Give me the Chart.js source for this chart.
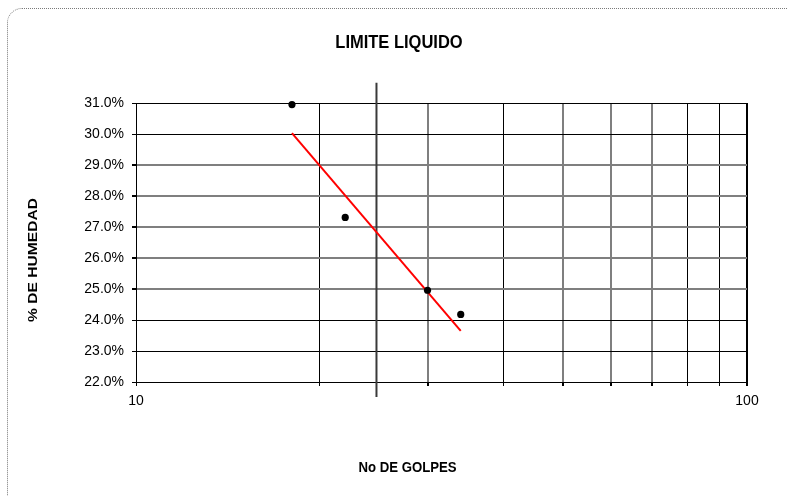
<!DOCTYPE html>
<html>
<head>
<meta charset="utf-8">
<script src="https://cdn.jsdelivr.net/npm/chart.js@4.4.1/dist/chart.umd.min.js"></script>
<style>
  html, body { margin: 0; padding: 0; background: #fff; overflow: hidden; }
  #wrap { position: relative; width: 787px; height: 496px; }
  #frame { position: absolute; left: 7px; top: 8px; width: 830px; height: 530px;
           border: 1px dotted #7a7a7a; border-radius: 15px; pointer-events: none; }
  canvas { position: absolute; left: 0; top: 0; }
</style>
</head>
<body>
<div id="wrap">
  <canvas id="c" width="787" height="496"></canvas>
  <div id="frame"></div>
</div>
<script>
// ---- data ----
const TITLE = 'LIMITE LIQUIDO';
const X_TITLE = 'No DE GOLPES';
const Y_TITLE = '% DE HUMEDAD';

const golpes  = [18, 22, 30, 34];              // No de golpes
const humedad = [30.95, 27.31, 24.96, 24.18];  // % de humedad

const trendGolpes  = [18, 34];                 // red fitted line ends
const trendHumedad = [30.03, 23.65];

const refGolpes  = [24.75, 24.75];             // vertical reference line (25 golpes)
const refHumedad = [21.52, 31.65];

const xTickValues = [10, 20, 30, 40, 50, 60, 70, 80, 90, 100];
const xTickLabels = ['10', '', '', '', '', '', '', '', '', '100'];
const yTickValues = [22, 23, 24, 25, 26, 27, 28, 29, 30, 31];

const xGrayLines = [30, 50, 60, 70];
const yGrayLines = [25, 26, 27, 28, 29];

const toPts = (xs, ys) => xs.map((x, i) => ({ x: x, y: ys[i] }));

const textPlugin = {
  id: 'texts',
  afterDraw(chart) {
    const ctx = chart.ctx;
    ctx.save();
    ctx.fillStyle = '#000';
    ctx.textAlign = 'center';
    ctx.textBaseline = 'middle';
    // title
    ctx.save();
    ctx.translate(399, 43);
    ctx.scale(1, 1.1);
    ctx.font = 'bold 16.5px "Liberation Sans", Arial, sans-serif';
    ctx.fillText(TITLE, 0, 0);
    ctx.restore();
    // x title
    ctx.save();
    ctx.translate(407.5, 468);
    ctx.scale(1, 1.13);
    ctx.font = 'bold 13.2px "Liberation Sans", Arial, sans-serif';
    ctx.fillText(X_TITLE, 0, 0);
    ctx.restore();
    // y title
    ctx.save();
    ctx.translate(33, 260);
    ctx.rotate(-Math.PI / 2);
    ctx.scale(1.2, 1);
    ctx.font = 'bold 13px "Liberation Sans", Arial, sans-serif';
    ctx.fillText(Y_TITLE, 0, 0);
    ctx.restore();
    ctx.restore();
  }
};

new Chart(document.getElementById('c'), {
  type: 'scatter',
  data: {
    datasets: [
      {
        data: toPts(refGolpes, refHumedad),
        showLine: true,
        borderColor: '#3a3a3a',
        borderWidth: 2,
        pointRadius: 0,
        clip: false,
        order: 3
      },
      {
        data: toPts(trendGolpes, trendHumedad),
        showLine: true,
        borderColor: '#ff0000',
        borderWidth: 2,
        pointRadius: 0,
        clip: false,
        order: 2
      },
      {
        data: toPts(golpes, humedad),
        showLine: false,
        backgroundColor: '#000',
        borderColor: '#000',
        borderWidth: 0,
        pointRadius: 3.6,
        pointHoverRadius: 3.6,
        clip: false,
        order: 1
      }
    ]
  },
  options: {
    responsive: false,
    animation: false,
    devicePixelRatio: 1,
    events: [],
    layout: { padding: { left: 0, top: 103, right: 40, bottom: 0 } },
    plugins: { legend: { display: false }, tooltip: { enabled: false }, title: { display: false } },
    scales: {
      x: {
        type: 'logarithmic',
        min: 10,
        max: 100,
        afterFit: s => { s.height = 114; },
        afterBuildTicks: s => { s.ticks = xTickValues.map(v => ({ value: v })); },
        ticks: {
          autoSkip: false,
          maxRotation: 0,
          padding: 7,
          color: '#000',
          font: { family: '"Liberation Sans", Arial, sans-serif', size: 14 },
          callback: (v) => { const i = xTickValues.indexOf(v); return i >= 0 ? xTickLabels[i] : ''; }
        },
        grid: {
          drawTicks: true,
          tickLength: 4,
          tickColor: '#000',
          color: c => (c.tick && xGrayLines.includes(c.tick.value)) ? '#7f7f7f' : '#000',
          lineWidth: c => (c.tick && (xGrayLines.includes(c.tick.value) || c.tick.value === 100)) ? 2 : 1
        },
        border: { display: true, color: '#000', width: 1 }
      },
      y: {
        type: 'linear',
        min: 22,
        max: 31,
        afterFit: s => { s.width = 136; },
        afterBuildTicks: s => { s.ticks = yTickValues.map(v => ({ value: v })); },
        ticks: {
          padding: 8,
          color: '#000',
          font: { family: '"Liberation Sans", Arial, sans-serif', size: 14 },
          callback: v => Number(v).toFixed(1) + '%'
        },
        grid: {
          drawTicks: true,
          tickLength: 4,
          tickColor: '#000',
          color: c => (c.tick && yGrayLines.includes(c.tick.value)) ? '#7f7f7f' : '#000',
          lineWidth: c => (c.tick && yGrayLines.includes(c.tick.value)) ? 2 : 1
        },
        border: { display: true, color: '#000', width: 1 }
      }
    }
  },
  plugins: [textPlugin]
});
</script>
</body>
</html>
